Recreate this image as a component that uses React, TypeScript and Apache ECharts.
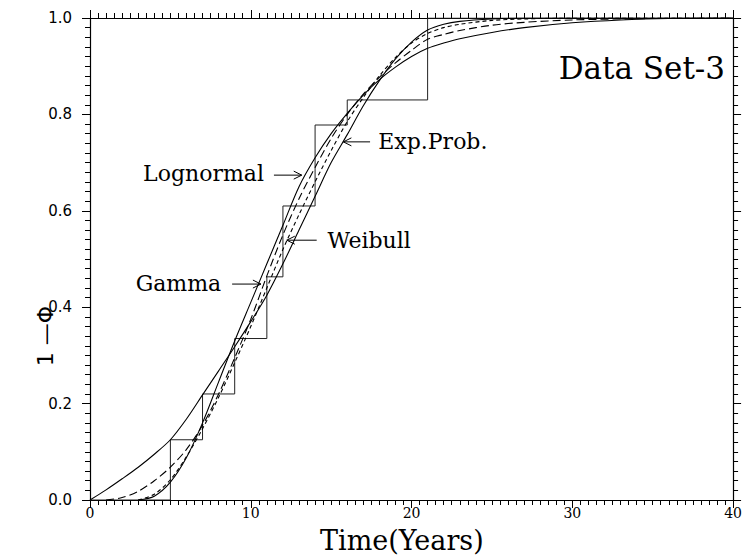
import React, { useEffect, useRef } from 'react';
import * as echarts from 'echarts';

// ---- data ----
const expProbX = [0, 1, 2, 3, 4, 5, 6, 7, 8, 9, 10, 11, 12, 13, 14, 15, 16, 17, 18, 19, 20, 21, 22, 23, 25, 27, 30, 35, 40];
const expProbY = [0, 0.021, 0.044, 0.068, 0.095, 0.125, 0.168, 0.218, 0.268, 0.318, 0.37, 0.425, 0.49, 0.56, 0.63, 0.7, 0.758, 0.818, 0.87, 0.915, 0.95, 0.975, 0.987, 0.993, 0.998, 1.0, 1.0, 1.0, 1.0];

const lognormalX = [3, 4, 5, 6, 7, 8, 9, 10, 11, 12, 13, 14, 15, 16, 17, 18, 19, 20, 21, 22, 23, 25, 27, 30, 33, 36, 40];
const lognormalY = [0, 0.008, 0.037, 0.088, 0.16, 0.245, 0.33, 0.41, 0.49, 0.57, 0.65, 0.71, 0.76, 0.802, 0.84, 0.872, 0.898, 0.92, 0.937, 0.948, 0.957, 0.97, 0.98, 0.99, 0.996, 0.999, 1.0];

const gammaX = [1, 2, 3, 4, 5, 6, 7, 8, 9, 10, 11, 12, 13, 14, 15, 16, 17, 18, 19, 20, 21, 22, 23, 25, 27, 30, 35, 40];
const gammaY = [0, 0.005, 0.018, 0.04, 0.068, 0.105, 0.155, 0.22, 0.295, 0.375, 0.465, 0.55, 0.625, 0.69, 0.75, 0.8, 0.842, 0.877, 0.907, 0.933, 0.956, 0.966, 0.974, 0.985, 0.991, 0.996, 0.999, 1.0];

const weibullX = [3, 4, 5, 6, 7, 8, 9, 10, 11, 12, 13, 14, 15, 16, 17, 18, 19, 20, 21, 22, 23, 25, 27, 30, 40];
const weibullY = [0, 0.012, 0.042, 0.09, 0.148, 0.213, 0.285, 0.36, 0.44, 0.52, 0.592, 0.66, 0.725, 0.785, 0.835, 0.88, 0.918, 0.948, 0.968, 0.98, 0.987, 0.995, 0.998, 1.0, 1.0];

// empirical step function
const empiricalX = [0, 5, 7, 9, 11, 12, 14, 16, 21, 40];
const empiricalY = [0, 0.125, 0.22, 0.335, 0.463, 0.61, 0.778, 0.83, 1.0, 1.0];

// annotation labels
const labelTexts = ['Lognormal', 'Gamma', 'Weibull', 'Exp.Prob.'];
const labelAnchors = [[10.82, 0.678], [8.16, 0.45], [14.78, 0.539], [17.93, 0.743]];
const labelAligns = ['right', 'right', 'left', 'left'];
const arrowTails = [[11.44, 0.674], [8.84, 0.448], [14.1, 0.539], [17.42, 0.743]];
const arrowTips = [[13.17, 0.674], [10.63, 0.448], [12.24, 0.539], [15.76, 0.743]];

const titleText = 'Data Set-3';
const xName = 'Time(Years)';
const yName = '1 \u2014\u03A6';

const zip = (xs: number[], ys: number[]) => xs.map((x, i) => [x, ys[i]]);

export default function App() {
  const ref = useRef<HTMLDivElement>(null);
  useEffect(() => {
    const chart = echarts.init(ref.current!, null, { renderer: 'svg' });
    const line = { show: true, onZero: false, lineStyle: { color: '#000', width: 1.2 } };
    const tick = { show: true, length: 8, lineStyle: { color: '#000', width: 1 } };
    const xMinor = { show: true, splitNumber: 20, length: 5, lineStyle: { color: '#000', width: 1 } };
    const yMinor = { show: true, splitNumber: 10, length: 5, lineStyle: { color: '#000', width: 1 } };
    const curve = (name: string, xs: number[], ys: number[], type: any) => ({
      name,
      type: 'line',
      data: zip(xs, ys),
      showSymbol: false,
      symbol: 'none',
      smooth: 0.3,
      lineStyle: { color: '#000', width: 1.1, type },
      z: 3,
    });
    chart.setOption({
      animation: false,
      backgroundColor: '#fff',
      grid: { left: 90, right: 8, top: 18, bottom: 57 },
      xAxis: [
        {
          type: 'value', min: 0, max: 40, interval: 10, position: 'bottom',
          axisLine: line, axisTick: tick, minorTick: xMinor,
          splitLine: { show: false }, minorSplitLine: { show: false },
          axisLabel: { margin: 6, fontFamily: 'DejaVu Serif', fontSize: 14, color: '#000' },
        },
        {
          type: 'value', min: 0, max: 40, interval: 10, position: 'top',
          axisLine: line, axisTick: tick, minorTick: xMinor,
          splitLine: { show: false }, axisLabel: { show: false },
        },
      ],
      yAxis: [
        {
          type: 'value', min: 0, max: 1, interval: 0.2, position: 'left',
          axisLine: line, axisTick: tick, minorTick: yMinor,
          splitLine: { show: false }, minorSplitLine: { show: false },
          axisLabel: {
            margin: 18, fontFamily: 'DejaVu Sans', fontSize: 15, color: '#000',
            formatter: (v: number) => v.toFixed(1),
          },
        },
        {
          type: 'value', min: 0, max: 1, interval: 0.2, position: 'right',
          axisLine: line, axisTick: tick, minorTick: yMinor,
          splitLine: { show: false }, axisLabel: { show: false },
        },
      ],
      series: [
        {
          name: 'Empirical', type: 'line', step: 'end', data: zip(empiricalX, empiricalY),
          showSymbol: false, symbol: 'none',
          lineStyle: { color: '#222', width: 1 }, z: 2,
        },
        curve('Lognormal', lognormalX, lognormalY, 'solid'),
        curve('Gamma', gammaX, gammaY, [8, 4]),
        curve('Weibull', weibullX, weibullY, [4, 3]),
        curve('Exp.Prob.', expProbX, expProbY, 'solid'),
      ],
    });

    const px = (p: number[]) => chart.convertToPixel({ xAxisIndex: 0, yAxisIndex: 0 }, p) as number[];
    const elements: any[] = [];
    labelTexts.forEach((t, i) => {
      const a = px(labelAnchors[i]);
      elements.push({
        type: 'text', x: a[0], y: a[1],
        style: { text: t, fill: '#000', font: '22px "DejaVu Serif"', align: labelAligns[i], verticalAlign: 'middle' },
      });
      const s = px(arrowTails[i]);
      const e = px(arrowTips[i]);
      const dx = e[0] - s[0], dy = e[1] - s[1];
      const len = Math.hypot(dx, dy) || 1;
      const ux = dx / len, uy = dy / len;
      elements.push({
        type: 'line', shape: { x1: s[0], y1: s[1], x2: e[0], y2: e[1] },
        style: { stroke: '#000', lineWidth: 1 },
      });
      elements.push({
        type: 'polyline',
        shape: {
          points: [
            [e[0] - 8 * ux - 4 * uy, e[1] - 8 * uy + 4 * ux],
            [e[0], e[1]],
            [e[0] - 8 * ux + 4 * uy, e[1] - 8 * uy - 4 * ux],
          ],
        },
        style: { stroke: '#000', lineWidth: 1, fill: null },
      });
    });
    const tp = px([39.5, 0.896]);
    elements.push({
      type: 'text', x: tp[0], y: tp[1],
      style: { text: titleText, fill: '#000', font: '31px "DejaVu Serif"', align: 'right', verticalAlign: 'middle' },
    });
    const xp = px([19.4, 0]);
    elements.push({
      type: 'text', x: xp[0], y: xp[1] + 40,
      style: { text: xName, fill: '#000', font: '27px "DejaVu Serif"', align: 'center', verticalAlign: 'middle' },
    });
    const yp = px([0, 0.34]);
    elements.push({
      type: 'text', x: yp[0] - 45, y: yp[1], rotation: Math.PI / 2,
      style: { text: yName, fill: '#000', font: '22px "DejaVu Sans"', align: 'center', verticalAlign: 'middle' },
    });
    chart.setOption({ graphic: elements });
    return () => chart.dispose();
  }, []);
  return <div ref={ref} style={{ position: 'absolute', left: 0, top: 0, width: 745, height: 557 }} />;
}
